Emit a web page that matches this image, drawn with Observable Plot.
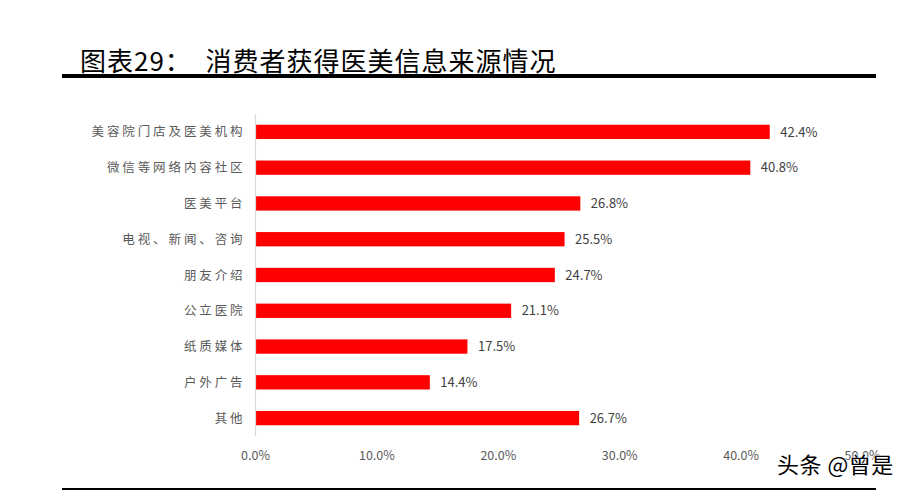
<!DOCTYPE html>
<html><head><meta charset="utf-8">
<script src="https://cdn.jsdelivr.net/npm/d3@7"></script>
<script src="https://cdn.jsdelivr.net/npm/@observablehq/plot@0.6"></script>
<style>
html,body{margin:0;padding:0;background:#fff;}
#wrap{position:relative;width:915px;height:491px;overflow:hidden;font-family:"Noto Sans CJK SC",sans-serif;}
#title{position:absolute;left:80px;top:45px;font-size:26px;line-height:30px;color:#000;white-space:pre;letter-spacing:1px;}
#rule1{position:absolute;left:62px;top:74px;width:814px;height:4px;background:#000;}
#rule2{position:absolute;left:62px;top:488px;width:814px;height:2px;background:#000;}
#wm{position:absolute;left:777px;top:447px;font-size:22px;letter-spacing:0.5px;color:#000;text-shadow:0 0 2px #fff,0 0 2px #fff,0 0 3px #fff;}
#chart{position:absolute;left:0;top:0;}
#chart g[aria-label="y-axis tick label"] text{letter-spacing:2.9px;}
</style></head>
<body><div id="wrap">
<div id="chart"></div>
<div id="title">图表29：  消费者获得医美信息来源情况</div>
<div id="rule1"></div>
<div id="rule2"></div>
<div id="wm">头条 @曾是</div>
</div>
<script>
const categories = ["美容院门店及医美机构","微信等网络内容社区","医美平台","电视、新闻、咨询","朋友介绍","公立医院","纸质媒体","户外广告","其他"];
const values = [42.4, 40.8, 26.8, 25.5, 24.7, 21.1, 17.5, 14.4, 26.7];
const xTicks = [0, 10, 20, 30, 40, 50];
const data = categories.map((c, i) => ({cat: c, v: values[i]}));

const chart = Plot.plot({
  width: 915,
  height: 491,
  marginLeft: 255,
  marginRight: 53,
  marginTop: 114,
  marginBottom: 55,
  style: {fontFamily: "'Noto Sans CJK SC', sans-serif", background: "transparent"},
  x: {domain: [0, 50], ticks: xTicks, tickFormat: d => d.toFixed(1) + "%", label: null},
  y: {domain: categories, paddingInner: 0.6, paddingOuter: 0.3, round: false, label: null},
  marks: [
    Plot.barX(data, {x: "v", y: "cat", fill: "#ff0000"}),
    Plot.ruleX([0], {stroke: "#d9d9d9", strokeWidth: 1.2}),
    Plot.text(data, {x: "v", y: "cat", text: d => d.v.toFixed(1) + "%", textAnchor: "start", dx: 10, fill: "#404040", fontSize: 13}),
    Plot.axisX({ticks: xTicks, tickFormat: d => d.toFixed(1) + "%", tickSize: 0, tickPadding: 15, fontSize: 12.5, color: "#595959", label: null}),
    Plot.axisY({tickSize: 0, tickPadding: 10, fontSize: 12.5, color: "#595959", label: null})
  ]
});
document.getElementById("chart").appendChild(chart);
</script>
</body></html>
